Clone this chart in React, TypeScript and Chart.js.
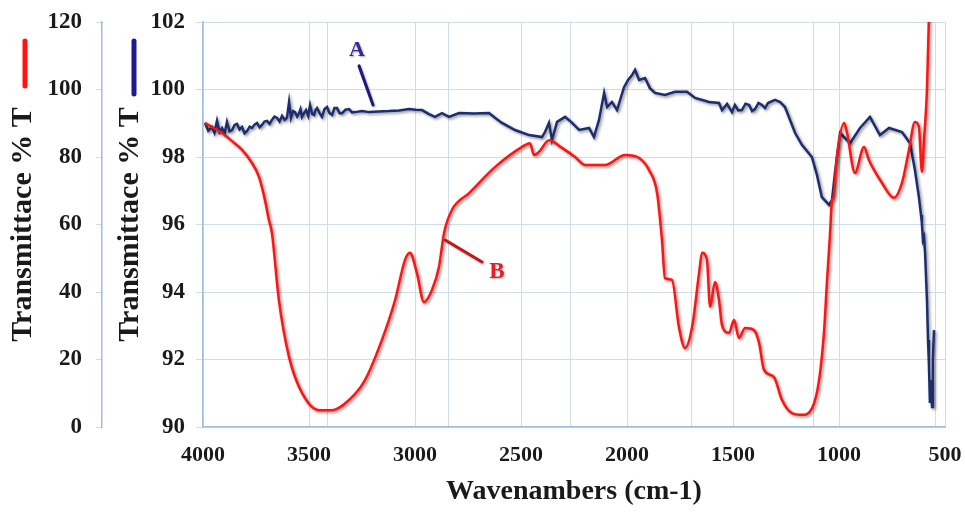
import React, { useEffect, useRef } from 'react';
import { Chart, registerables } from 'chart.js';

Chart.register(...registerables);

// ---------- data ----------
const xTicks = [4000, 3500, 3000, 2500, 2000, 1500, 1000, 500];
const yTicksB = [0, 20, 40, 60, 80, 100, 120];
const yTicksA = [90, 92, 94, 96, 98, 100, 102];

// Series A (blue, inner axis 90-102)
const wavenumbersA = [
  3991, 3975, 3958, 3946, 3934, 3922, 3910, 3898, 3887, 3875, 3863, 3851, 3840, 3828, 3816, 3804,
  3792, 3780, 3769, 3757, 3745, 3733, 3722, 3710, 3698, 3686, 3675, 3663, 3651, 3639, 3627, 3615,
  3604, 3594, 3585, 3575, 3566, 3556, 3547, 3540, 3533, 3523, 3514, 3504, 3495, 3485, 3476, 3469,
  3462, 3450, 3439, 3427, 3415, 3403, 3391, 3380, 3368, 3356, 3344, 3328, 3311, 3297, 3283, 3250,
  3217, 3170, 3123, 3075, 3028, 2997, 2967, 2934, 2906, 2873, 2840, 2792, 2720, 2651, 2623, 2590,
  2528, 2462, 2401, 2387, 2368, 2354, 2330, 2292, 2259, 2226, 2179, 2156, 2132, 2108, 2094, 2071,
  2047, 2014, 1995, 1976, 1962, 1943, 1915, 1892, 1868, 1821, 1774, 1717, 1679, 1613, 1566, 1552,
  1528, 1505, 1491, 1475, 1458, 1441, 1424, 1410, 1396, 1380, 1363, 1349, 1335, 1302, 1278, 1255,
  1207, 1175, 1128, 1104, 1081, 1047, 1033, 1019, 995, 948, 901, 854, 807, 764, 703, 665,
  642, 623, 613, 609, 604, 599, 594, 585, 580, 576, 571, 566, 561, 557, 552,
];
const transmittanceA = [
  99.01, 98.78, 98.89, 98.72, 99.07, 98.74, 98.86, 98.7, 99.04, 98.76, 98.8, 98.95, 98.98, 98.82, 98.89, 98.7,
  98.77, 98.9, 98.86, 98.96, 99.01, 98.88, 98.95, 99.05, 99.07, 98.98, 99.1, 99.2, 99.16, 99.05, 99.22, 99.1,
  99.16, 99.63, 99.16, 99.36, 99.33, 99.2, 99.3, 99.42, 99.19, 99.3, 99.39, 99.22, 99.54, 99.28, 99.25, 99.4,
  99.45, 99.3, 99.19, 99.42, 99.48, 99.3, 99.25, 99.45, 99.45, 99.3, 99.3, 99.4, 99.42, 99.32, 99.33, 99.36,
  99.33, 99.35, 99.36, 99.38, 99.42, 99.4, 99.39, 99.27, 99.19, 99.3, 99.19, 99.3, 99.29, 99.3, 99.16, 99.01,
  98.8, 98.65, 98.59, 98.74, 99.01, 98.5, 99.04, 99.19, 99.01, 98.8, 98.86, 98.59, 99.1, 99.9, 99.48, 99.63,
  99.39, 100.07, 100.28, 100.43, 100.58, 100.28, 100.34, 100.04, 99.9, 99.84, 99.93, 99.93, 99.75, 99.63, 99.6, 99.39,
  99.57, 99.33, 99.54, 99.38, 99.39, 99.58, 99.54, 99.36, 99.42, 99.6, 99.54, 99.45, 99.6, 99.69, 99.63, 99.48,
  98.71, 98.36, 98.0, 97.47, 96.81, 96.58, 96.73, 97.53, 98.71, 98.41, 98.86, 99.19, 98.65, 98.86, 98.74, 98.41,
  97.62, 96.81, 96.28, 96.04, 95.54, 95.63, 95.16, 93.76, 92.58, 91.9, 90.71, 91.39, 90.59, 91.99, 92.87,
];

// Series B (red, outer axis 0-120)
const wavenumbersB = [
  3991, 3950, 3910, 3863, 3816, 3775, 3736, 3708, 3689, 3675, 3642, 3594, 3533, 3453, 3391, 3311,
  3236, 3156, 3094, 3047, 3024, 2991, 2958, 2920, 2887, 2863, 2826, 2745, 2623, 2495, 2458, 2439,
  2415, 2368, 2307, 2245, 2198, 2104, 2009, 1943, 1896, 1858, 1835, 1821, 1788, 1755, 1726, 1693,
  1660, 1646, 1623, 1608, 1585, 1566, 1552, 1519, 1495, 1472, 1443, 1401, 1377, 1354, 1307, 1269,
  1222, 1175, 1127, 1094, 1071, 1057, 1042, 1033, 1026, 1010, 976, 962, 925, 882, 859, 797,
  741, 703, 670, 642, 623, 609, 599, 585, 576,
];
const transmittanceB = [
  90.1, 88.6, 87.1, 84.7, 82.1, 78.8, 74.1, 67.3, 61.3, 57.5, 37.6, 20.7, 10.1, 5.0, 5.0, 8.0,
  13.9, 25.8, 37.6, 49.5, 51.6, 45.6, 37.0, 40.6, 47.4, 57.5, 64.3, 69.3, 77.0, 83.0, 84.1, 80.6,
  81.5, 85.0, 82.7, 80.0, 77.6, 77.6, 80.6, 79.7, 76.1, 69.3, 55.4, 44.1, 43.6, 29.6, 23.4, 29.6,
  45.6, 51.6, 49.5, 35.6, 43.0, 37.6, 30.2, 27.9, 31.7, 26.4, 29.3, 28.7, 24.9, 16.9, 14.8, 8.0,
  4.1, 3.6, 5.6, 13.9, 27.9, 42.7, 57.5, 67.3, 68.0, 80.0, 90.1, 87.1, 75.3, 83.0, 79.1, 72.3,
  67.9, 72.3, 82.1, 90.4, 88.9, 75.6, 85.0, 100.0, 121.0,
];

// Curve labels (value coordinates)
const labelA = { text: 'A', axis: 'y1', at: [3274, 101.17], from: [3264, 100.7], to: [3198, 99.54] };
const labelB = { text: 'B', axis: 'y', at: [2613, 45.9], from: [2684, 48.9], to: [2858, 55.4] };

const SERIF = '"Liberation Serif", "Times New Roman", serif';
const GRID = '#cfdcea';
const AXIS = '#9fbde0';
const RED = '#ff1414';
const BLUE = '#1c2d70';

const shadowPlugin = {
  id: 'lineShadow',
  beforeDatasetDraw(chart: any) {
    const ctx = chart.ctx;
    ctx.save();
    ctx.shadowColor = 'rgba(0,0,0,0.45)';
    ctx.shadowBlur = 3;
    ctx.shadowOffsetX = 1.5;
    ctx.shadowOffsetY = 1.5;
  },
  afterDatasetDraw(chart: any) {
    chart.ctx.restore();
  },
};

const decorPlugin = {
  id: 'decor',
  afterDraw(chart: any) {
    const ctx = chart.ctx;
    const x = chart.scales.x;
    const yB = chart.scales.y;
    const yA = chart.scales.y1;
    ctx.save();
    ctx.lineCap = 'round';
    ctx.lineWidth = 5;
    ctx.strokeStyle = RED;
    ctx.beginPath();
    ctx.moveTo(yB.left + 25, 41);
    ctx.lineTo(yB.left + 25, 86);
    ctx.stroke();
    ctx.strokeStyle = '#1f1a8a';
    ctx.beginPath();
    ctx.moveTo(yA.left + 32, 41);
    ctx.lineTo(yA.left + 32, 94);
    ctx.stroke();

    const drawLabel = (lab: any, color: string, lineColor: string, size: number) => {
      const ys = lab.axis === 'y1' ? yA : yB;
      ctx.save();
      ctx.shadowColor = 'rgba(0,0,0,0.35)';
      ctx.shadowBlur = 2;
      ctx.shadowOffsetX = 1;
      ctx.shadowOffsetY = 1;
      ctx.lineCap = 'round';
      ctx.lineWidth = 3;
      ctx.strokeStyle = lineColor;
      ctx.beginPath();
      ctx.moveTo(x.getPixelForValue(lab.from[0]), ys.getPixelForValue(lab.from[1]));
      ctx.lineTo(x.getPixelForValue(lab.to[0]), ys.getPixelForValue(lab.to[1]));
      ctx.stroke();
      ctx.fillStyle = color;
      ctx.font = `bold ${size}px ${SERIF}`;
      ctx.textAlign = 'center';
      ctx.textBaseline = 'middle';
      ctx.fillText(lab.text, x.getPixelForValue(lab.at[0]), ys.getPixelForValue(lab.at[1]));
      ctx.restore();
    };
    drawLabel(labelA, '#35289a', '#1e1a7a', 22);
    drawLabel(labelB, '#e0202a', '#c4161c', 23);
    ctx.restore();
  },
};

const zeroPad = (s: any) => {
  s.paddingLeft = 0;
  s.paddingRight = 0;
  s.paddingTop = 0;
  s.paddingBottom = 0;
};

export default function App() {
  const ref = useRef<HTMLCanvasElement>(null);
  useEffect(() => {
    document.body.style.margin = '0';
    const canvas = ref.current!;
    const dataA = wavenumbersA.map((w, i) => ({ x: w, y: transmittanceA[i] }));
    const dataB = wavenumbersB.map((w, i) => ({ x: w, y: transmittanceB[i] }));
    const tickFont = { family: SERIF, size: 23, weight: 'bold' as const };
    const titleFont = { family: SERIF, size: 30, weight: 'bold' as const, lineHeight: 1.2 };
    const chart = new Chart(canvas, {
      type: 'line',
      data: {
        datasets: [
          {
            label: 'B',
            data: dataB,
            yAxisID: 'y',
            xAxisID: 'x',
            borderColor: RED,
            borderWidth: 2.5,
            pointRadius: 0,
            cubicInterpolationMode: 'monotone',
            fill: false,
          },
          {
            label: 'A',
            data: dataA,
            yAxisID: 'y1',
            xAxisID: 'x',
            borderColor: BLUE,
            borderWidth: 2.5,
            pointRadius: 0,
            tension: 0,
            fill: false,
          },
        ],
      },
      options: {
        animation: false,
        responsive: false,
        parsing: false as any,
        layout: { padding: { left: 0, right: 20, top: 22, bottom: 4 } },
        plugins: { legend: { display: false }, tooltip: { enabled: false } },
        scales: {
          x: {
            type: 'linear',
            position: 'bottom',
            reverse: true,
            min: 500,
            max: 4000,
            weight: 1,
            afterBuildTicks: (s: any) => {
              s.ticks = xTicks.map((v) => ({ value: v }));
            },
            afterFit: (s: any) => {
              s.height = 82;
              zeroPad(s);
            },
            ticks: {
              font: { family: SERIF, size: 22, weight: 'bold' },
              color: '#1a1a1a',
              padding: 15,
              maxRotation: 0,
              autoSkip: false,
              callback: (v: any) => String(v),
            },
            grid: { color: GRID, lineWidth: 1, drawTicks: false },
            border: { display: true, color: AXIS, width: 1.5 },
            title: { display: true, text: 'Wavenambers (cm-1)', font: { family: SERIF, size: 28, weight: 'bold', lineHeight: 1.2 }, color: '#1a1a1a', padding: 0 },
          },
          x2: {
            type: 'linear',
            position: 'bottom',
            min: -0.02,
            max: 6.08,
            weight: 0,
            afterBuildTicks: (s: any) => {
              s.ticks = [1, 2, 3, 4, 5, 6].map((v) => ({ value: v }));
            },
            afterFit: (s: any) => {
              s.height = 0;
              zeroPad(s);
            },
            ticks: { display: false },
            grid: { color: GRID, lineWidth: 1, drawTicks: false },
            border: { display: false },
          },
          y: {
            type: 'linear',
            position: 'left',
            min: 0,
            max: 120,
            weight: 1,
            afterBuildTicks: (s: any) => {
              s.ticks = yTicksB.map((v) => ({ value: v }));
            },
            afterFit: (s: any) => {
              s.width = 102;
              zeroPad(s);
            },
            ticks: { font: tickFont, color: '#1a1a1a', padding: 14 },
            grid: { color: GRID, lineWidth: 1, tickLength: 6, drawTicks: true },
            border: { display: true, color: AXIS, width: 1.5 },
            title: { display: true, text: 'Transmittace % T', font: titleFont, color: '#1a1a1a', padding: { top: 5, bottom: 0 } },
          },
          y1: {
            type: 'linear',
            position: 'left',
            min: 90,
            max: 102,
            weight: 0,
            afterBuildTicks: (s: any) => {
              s.ticks = yTicksA.map((v) => ({ value: v }));
            },
            afterFit: (s: any) => {
              s.width = 101;
              zeroPad(s);
            },
            ticks: { font: tickFont, color: '#1a1a1a', padding: 11 },
            grid: { color: GRID, lineWidth: 1, tickLength: 7, drawTicks: true, drawOnChartArea: false },
            border: { display: true, color: AXIS, width: 1.5 },
            title: { display: true, text: 'Transmittace % T', font: titleFont, color: '#1a1a1a', padding: { top: 10, bottom: 0 } },
          },
        },
      } as any,
      plugins: [shadowPlugin, decorPlugin],
    });
    return () => chart.destroy();
  }, []);
  return (
    <div style={{ width: 965, height: 513 }}>
      <canvas ref={ref} width={965} height={513} style={{ display: 'block' }} />
    </div>
  );
}
